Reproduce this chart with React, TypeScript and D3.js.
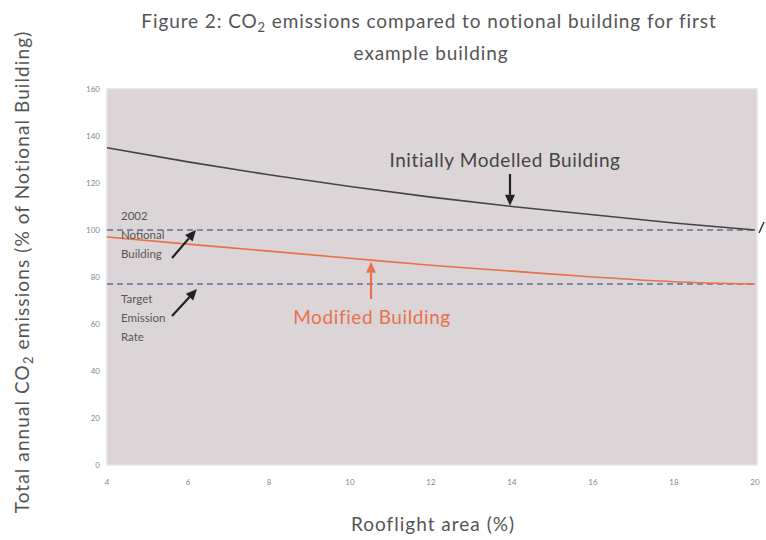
import React from "react";
import * as d3 from "d3";

const rooflight = [4, 6, 8, 10, 12, 14, 16, 18, 20];
const initiallyModelled = [135, 129, 123.5, 118.5, 114, 110, 106.5, 103, 100];
const modified = [97, 94, 91, 88, 85, 82.5, 80, 78, 77];
const notionalLevel = 100;
const targetLevel = 77;
const xTicks = [4, 6, 8, 10, 12, 14, 16, 18, 20];
const yTicks = [0, 20, 40, 60, 80, 100, 120, 140, 160];

const W = 766;
const H = 540;
const M = { left: 107, right: 9, top: 89, bottom: 75 };

export default function App() {
  const x = d3.scaleLinear().domain([4, 20]).range([M.left, W - M.right - 2]);
  const y = d3.scaleLinear().domain([0, 160]).range([H - M.bottom, M.top]);
  const line = d3
    .line<number>()
    .x((_, i) => x(rooflight[i]))
    .y((d) => y(d))
    .curve(d3.curveMonotoneX);

  const font = "Lato, 'Open Sans', sans-serif";
  const grey = "#555";

  const arrow = (x1: number, y1: number, x2: number, y2: number, color: string, w = 2.2) => {
    const ang = Math.atan2(y2 - y1, x2 - x1);
    const L = 11;
    const hw = 5;
    const bx = x2 - L * Math.cos(ang);
    const by = y2 - L * Math.sin(ang);
    const px = -Math.sin(ang) * hw;
    const py = Math.cos(ang) * hw;
    return (
      <g>
        <line x1={x1} y1={y1} x2={bx} y2={by} stroke={color} strokeWidth={w} />
        <polygon points={`${x2},${y2} ${bx + px},${by + py} ${bx - px},${by - py}`} fill={color} />
      </g>
    );
  };

  return (
    <svg width={W} height={H} style={{ display: "block", position: "absolute", left: 0, top: 0, background: "#fff" }}>
      <rect x={M.left} y={M.top} width={W - M.right - M.left} height={H - M.bottom - M.top} fill="#dbd5d7" stroke="#e6e1e3" strokeWidth={1.5} />
      {/* title */}
      <text x={429} y={28} textAnchor="middle" fontFamily={font} fontSize={19} letterSpacing={0.9} fill={grey}>
        Figure 2: CO<tspan fontSize={13} dy={4}>2</tspan>
        <tspan dy={-4}> emissions compared to notional building for first</tspan>
      </text>
      <text x={431} y={60} textAnchor="middle" fontFamily={font} fontSize={19} letterSpacing={0.9} fill={grey}>
        example building
      </text>
      {/* y ticks */}
      {yTicks.map((t) => (
        <text key={t} x={100} y={y(t) + 3} textAnchor="end" fontFamily={font} fontSize={8} fill="#888">
          {t}
        </text>
      ))}
      {xTicks.map((t) => (
        <text key={t} x={x(t)} y={485} textAnchor="middle" fontFamily={font} fontSize={8} fill="#888">
          {t}
        </text>
      ))}
      {/* axis labels */}
      <text x={433} y={531} textAnchor="middle" fontFamily={font} fontSize={19} letterSpacing={1} fill={grey}>
        Rooflight area (%)
      </text>
      <text transform={`translate(29,272) rotate(-90)`} textAnchor="middle" fontFamily={font} fontSize={19} letterSpacing={1.1} fill={grey}>
        Total annual CO<tspan fontSize={13} dy={4}>2</tspan>
        <tspan dy={-4}> emissions (% of Notional Building)</tspan>
      </text>
      {/* reference dashed lines */}
      <line x1={x(4)} x2={x(20)} y1={y(notionalLevel)} y2={y(notionalLevel)} stroke="#6c6c98" strokeWidth={1.6} strokeDasharray="6,4" />
      <line x1={x(4)} x2={x(20)} y1={y(targetLevel)} y2={y(targetLevel)} stroke="#6c6c98" strokeWidth={1.6} strokeDasharray="6,4" />
      {/* series */}
      <path d={line(initiallyModelled) ?? ""} fill="none" stroke="#444" strokeWidth={1.6} />
      <path d={line(modified) ?? ""} fill="none" stroke="#e8704a" strokeWidth={1.6} />
      {/* annotations */}
      <text x={505} y={167} textAnchor="middle" fontFamily={font} fontSize={19} letterSpacing={0.6} fill="#444">
        Initially Modelled Building
      </text>
      {arrow(510, 174, 510, y(110.3), "#222")}
      <text x={372} y={324} textAnchor="middle" fontFamily={font} fontSize={19} letterSpacing={0.6} fill="#e8704a">
        Modified Building
      </text>
      {arrow(371, 299, 371, y(86.5), "#e8704a")}
      <g fontFamily={font} fontSize={11.5} fill="#555">
        <text x={121} y={220}>2002</text>
        <text x={121} y={239}>Notional</text>
        <text x={121} y={258}>Building</text>
        <text x={121} y={303}>Target</text>
        <text x={121} y={322}>Emission</text>
        <text x={121} y={341}>Rate</text>
      </g>
      {arrow(172, 258, 196, 230, "#222")}
      {arrow(172, 316, 197, 289, "#222")}
      <line x1={759} y1={233} x2={764} y2={222} stroke="#333" strokeWidth={1.5} />
    </svg>
  );
}
